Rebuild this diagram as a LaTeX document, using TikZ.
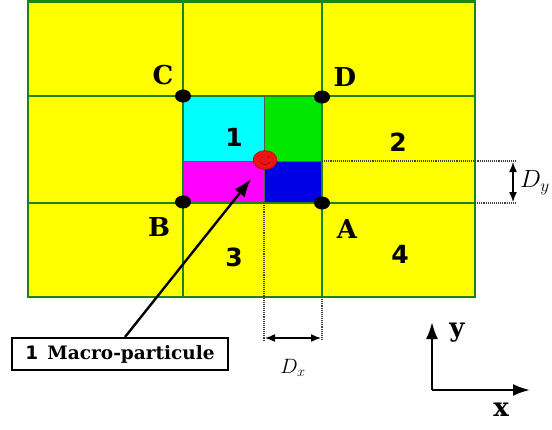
\documentclass[tikz,border=0pt]{standalone}
\usepackage{fontspec}
\newfontfamily\lblfont{DejaVu Serif}
\newfontfamily\numfont{DejaVu Sans}
\usetikzlibrary{arrows.meta,shapes.geometric}
\definecolor{gridgreen}{RGB}{30,130,20}
\definecolor{cellyellow}{RGB}{255,255,0}
\definecolor{cellcyan}{RGB}{0,255,255}
\definecolor{cellgreen}{RGB}{0,230,0}
\definecolor{cellmag}{RGB}{255,0,255}
\definecolor{cellblue}{RGB}{0,0,230}
\definecolor{partred}{RGB}{235,20,20}
\begin{document}
\begin{tikzpicture}[x=1pt,y=-1pt,
  gridline/.style={draw=gridgreen,line width=2.6pt},
  quad/.style={draw=gray!70!black,line width=0.8pt},
  gdot/.style={ellipse,fill=black,minimum width=16pt,minimum height=13pt,inner sep=0pt},
  letter/.style={font=\lblfont\bfseries\fontsize{26}{26}\selectfont},
  num/.style={font=\numfont\bfseries\fontsize{25}{25}\selectfont},
  dimline/.style={densely dotted,line width=1.1pt,black!75},
  dimarrow/.style={{Latex[length=10pt,width=8pt]}-{Latex[length=10pt,width=8pt]},line width=1.4pt},
  axis/.style={-{Latex[length=17pt,width=12pt]},line width=2.4pt}]
\useasboundingbox (0,0) rectangle (552,429);
% background cells
\fill[cellyellow] (28,1) rectangle (475,297);
\fill[cellcyan] (183,96) rectangle (264,161);
\fill[cellgreen] (264,96) rectangle (322,161);
\fill[cellmag] (183,161) rectangle (264,203);
\fill[cellblue] (264,161) rectangle (322,203);
\draw[quad] (264,96) -- (264,203);
\draw[quad] (183,161) -- (322,161);
% grid
\draw[gridline] (28,1.5) rectangle (475,297);
\draw[gridline] (183,1) -- (183,297);
\draw[gridline] (322,1) -- (322,297);
\draw[gridline] (28,96) -- (475,96);
\draw[gridline] (28,203) -- (475,203);
% grid points
\node[gdot] (C) at (183,96) {};
\node[gdot] (D) at (322,97) {};
\node[gdot] (B) at (183,202) {};
\node[gdot] (A) at (322,203) {};
\node[letter] (lC) at (163,75) {C};
\node[letter] (lD) at (345,77) {D};
\node[letter] (lB) at (159,227) {B};
\node[letter] (lA) at (347,229) {A};
\node[num] (n1) at (234,137) {1};
\node[num] (n2) at (398,142) {2};
\node[num] (n3) at (234,257) {3};
\node[num] (n4) at (400,254) {4};
% dimension lines
\coordinate (dy1) at (516,161);
\coordinate (dy2) at (516,203);
\draw[dimline] (322,161) -- (dy1);
\draw[dimline] (475,203) -- (dy2);
\draw[dimarrow] (513,162) -- (513,202);
\node[font=\fontsize{25}{25}\selectfont,inner sep=0pt] (Dy) at (535,183) {$D_y$};
\coordinate (dx1) at (264,340);
\coordinate (dx2) at (322,340);
\draw[dimline] (264,203) -- (dx1);
\draw[dimline] (322,297) -- (dx2);
\draw[dimarrow] (265,338) -- (321,338);
\node[font=\fontsize{21}{21}\selectfont] (Dx) at (293,368) {$D_x$};
% particle
\node[ellipse,fill=partred,draw=red!70!black,line width=0.4pt,minimum width=24pt,minimum height=19pt,inner sep=0pt] (P) at (265,160) {};
\fill[red!50!black] (261.5,157) circle (0.7pt) (268.5,157) circle (0.7pt);
\draw[red!50!black,line width=0.4pt] (260,162) .. controls (263,165.5) and (267,165.5) .. (270,162);
% label box
\node[draw=black,line width=2pt,fill=white,minimum width=216pt,minimum height=32pt,inner sep=0pt,font=\lblfont\bfseries\fontsize{18.5}{18.5}\selectfont] (box) at (120,354) {{\numfont 1}\enspace Macro-particule};
\draw[-{Latex[length=18pt,width=13pt]},line width=2.4pt] (box.north) ++(5,0) -- (251,179);
% axes
\coordinate (O) at (432,390);
\coordinate (Y) at (432,322);
\coordinate (X) at (530,390);
\draw[axis] (O) -- (Y);
\draw[axis] (O) -- (X);
\node[letter] (ly) at (457,333) {y};
\node[letter] (lx) at (501,410) {x};
\end{tikzpicture}
\end{document}
